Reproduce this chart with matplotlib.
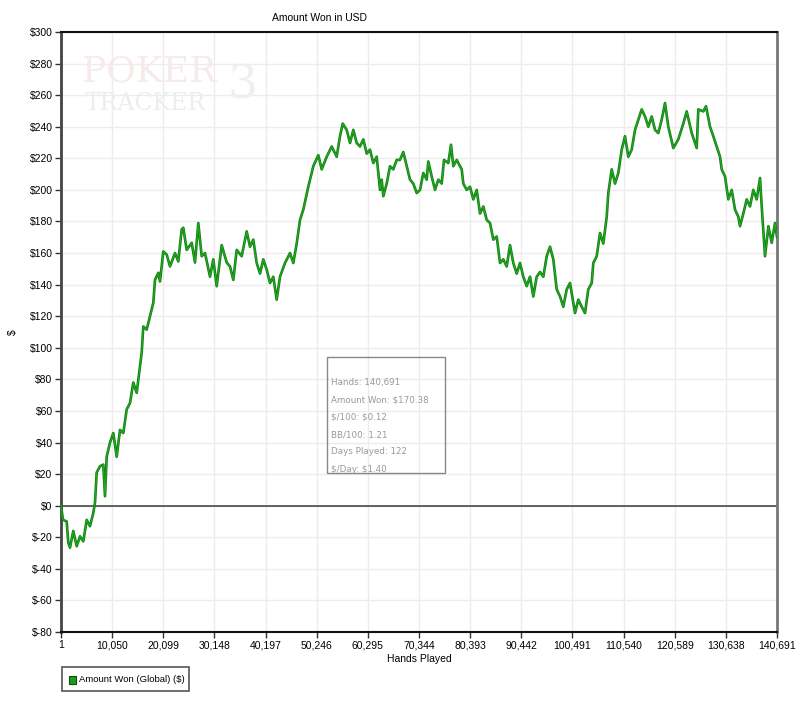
import matplotlib
matplotlib.use("Agg")
import matplotlib.pyplot as plt
from matplotlib.patches import Rectangle

# ---- data ----
hands = [1, 393, 1120, 1434, 1769, 2417, 3085, 3734, 4382, 5050, 5699, 6347, 6681, 7015,
         7664, 8312, 8646, 8980, 9629, 10277, 10945, 11594, 12242, 12910, 13559, 14207,
         14875, 15524, 15858, 16172, 16840, 17489, 18137, 18471, 19119, 19454, 20102,
         20770, 21419, 22401, 23049, 23718, 24032, 24700, 25683, 26331, 26980, 27648,
         28296, 29279, 29927, 30595, 31578, 32560, 33209, 33857, 34525, 35508, 36490,
         37139, 37787, 38455, 39104, 39752, 40420, 41069, 41717, 42385, 43034, 44016,
         44999, 45647, 46315, 46964, 47612, 48594, 49577, 50559, 51228, 52210, 53193,
         54175, 54824, 55354, 56140, 56789, 57437, 58105, 58754, 59402, 60070, 60719,
         61367, 62035, 62684, 63018, 63332, 64000, 64649, 65297, 65965, 66614, 67262,
         67930, 68579, 69227, 69895, 70544, 71192, 71860, 72175, 72843, 73491, 74140,
         74808, 75260, 76105, 76635, 77087, 77755, 78738, 79052, 79720, 80369, 81017,
         81685, 82334, 82982, 83650, 84299, 84947, 85615, 86264, 86912, 87580, 88229,
         88877, 89545, 90194, 90842, 91510, 92159, 92807, 93475, 94124, 94772, 95440,
         96089, 96737, 97405, 98054, 98702, 99370, 100019, 100667, 101001, 101650,
         102318, 102966, 103614, 104283, 104597, 105265, 105914, 106562, 107230,
         107544, 108212, 108861, 109509, 110177, 110826, 111474, 112142, 112791,
         113439, 114107, 114756, 115404, 116072, 116721, 117369, 118037, 118686,
         119334, 120317, 121299, 122282, 122950, 123933, 124915, 125230, 126212,
         126743, 127529, 128177, 128845, 129494, 129828, 130477, 131125, 131793,
         132441, 133090, 133424, 134072, 134740, 135389, 136037, 136705, 137354,
         137688, 138336, 139004, 139653, 140301, 140691]
amount_won = [0, -9, -10, -23.5, -26.6, -16, -25.7, -19.4, -22.6, -9, -13, -4.6, 2, 21,
              25, 26, 6, 31, 40, 46, 31, 48, 46, 61, 65, 78,
              71.5, 88, 97, 113.5, 111.5, 120, 128.5, 143, 147.5, 142, 161,
              159, 151.5, 160, 154.7, 175, 176, 162, 166.5, 154, 179, 158,
              160, 145, 156, 139, 165, 154, 151.5, 143, 162, 158, 173.7,
              164, 168.5, 153.7, 147, 156, 149.5, 141, 145, 130.5, 145, 153.7,
              160, 153.7, 166, 181, 187.5, 202, 215, 222, 213, 221, 227.5,
              221, 234, 242, 238, 229.7, 238, 229.7, 227.5, 232, 223, 225.5,
              217, 221, 200, 206.5, 196, 204, 215, 213, 219, 219, 224,
              215, 206.5, 204, 198, 200, 210.7, 206.5, 218, 208.5, 200, 206.5,
              204, 219, 217, 228.6, 215, 219, 213, 204, 200, 202, 194,
              200, 185, 189.5, 181, 179, 168.5, 170.5, 153.7, 156, 151.5, 165,
              153.7, 147, 153.7, 145, 139, 145, 132.5, 145, 148, 145, 158,
              164, 156, 137, 132.5, 126, 137, 141, 128.4, 122, 130.5,
              126, 122, 137, 141, 153.7, 158, 172.7, 166, 183,
              198, 213, 204, 210.7, 225.5, 234, 221, 225.5, 238,
              244.5, 251, 246.5, 240, 246.5, 238, 236, 244.5, 255,
              240, 226.5, 232, 242, 249.7, 236, 226.5, 251, 249.7,
              253, 240, 234, 227.5, 221, 213, 208.5, 194, 200,
              187.5, 183, 177, 185, 194, 189.5, 200, 194, 207.5,
              189.5, 158, 177, 166.5, 179, 170.38]

x_ticks = [1, 10050, 20099, 30148, 40197, 50246, 60295, 70344, 80393, 90442,
           100491, 110540, 120589, 130638, 140691]
y_ticks = list(range(-80, 301, 20))

tooltip_lines = ["Hands: 140,691", "Amount Won: $170.38", "$/100: $0.12",
                 "BB/100: 1.21", "Days Played: 122", "$/Day: $1.40"]

plt.rcParams['font.family'] = ['Liberation Sans', 'DejaVu Sans']
plt.rcParams['text.parse_math'] = False

fig = plt.figure(figsize=(7.98, 7.13), dpi=100)
ax = fig.add_axes([61 / 798, 1 - 632 / 713, 716 / 798, 600 / 713])

ax.set_xlim(1, 140691)
ax.set_ylim(-80, 300)
ax.set_xticks(x_ticks)
ax.set_xticklabels([f"{t:,}" for t in x_ticks])
ax.set_yticks(y_ticks)
ax.set_yticklabels([f"${v}" if v >= 0 else f"$-{abs(v)}" for v in y_ticks])
ax.tick_params(axis='both', labelsize=7.5, length=4, width=1, colors='#333333',
               labelcolor='black', pad=2)
ax.grid(True, color='#ececec', linewidth=1)
ax.set_axisbelow(True)

ax.axhline(0, color='#555555', linewidth=1.3, zorder=2)

# PokerTracker logo (faint)
ax.text(0.03, 0.935, "POKER", transform=ax.transAxes, fontsize=26, family='DejaVu Serif',
        color='#f6eaea', va='center', ha='left', zorder=1)
ax.text(0.033, 0.88, "TRACKER", transform=ax.transAxes, fontsize=17, family='DejaVu Serif',
        color='#eceeec', va='center', ha='left', zorder=1)
ax.text(0.232, 0.91, "3", transform=ax.transAxes, fontsize=34, family='DejaVu Serif',
        color='#edf1ed', va='center', ha='left', zorder=1)

ax.plot(hands, amount_won, color='#0f7f0f', linewidth=1.9, zorder=3)
ax.plot(hands, amount_won, color='#25a825', linewidth=0.8, zorder=4)

for side, col, lw in [('top', '#111111', 1.5), ('bottom', '#111111', 1.5),
                      ('left', '#444444', 2.0), ('right', '#777777', 2.0)]:
    ax.spines[side].set_color(col)
    ax.spines[side].set_linewidth(lw)

ax.set_xlabel("Hands Played", fontsize=7.5, labelpad=3)
ax.set_ylabel("$", fontsize=7.5, labelpad=8)
fig.text(272 / 798, 1 - 18 / 713, "Amount Won in USD", fontsize=7.5, ha='left', va='center')

# tooltip box
fig.patches.append(Rectangle((327 / 798, 1 - 473 / 713), 118 / 798, 116 / 713,
                             transform=fig.transFigure, facecolor='none',
                             edgecolor='#888888', linewidth=1, zorder=5))
for i, line in enumerate(tooltip_lines):
    fig.text(331 / 798, 1 - (382 + i * 17.5) / 713, line, fontsize=6.3,
             family='DejaVu Sans', color='#999999', ha='left', va='center', zorder=6)

# legend box
fig.patches.append(Rectangle((62 / 798, 1 - 691 / 713), 127 / 798, 24 / 713,
                             transform=fig.transFigure, facecolor='white',
                             edgecolor='#555555', linewidth=1.2))
fig.patches.append(Rectangle((69 / 798, 1 - 684 / 713), 7 / 798, 8 / 713,
                             transform=fig.transFigure, facecolor='#1f9a1f',
                             edgecolor='#0d4d0d', linewidth=0.8))
fig.text(79 / 798, 1 - 679.5 / 713, "Amount Won (Global) ($)", fontsize=6.8,
         ha='left', va='center')

fig.savefig("out.png", dpi=100, facecolor='white')
